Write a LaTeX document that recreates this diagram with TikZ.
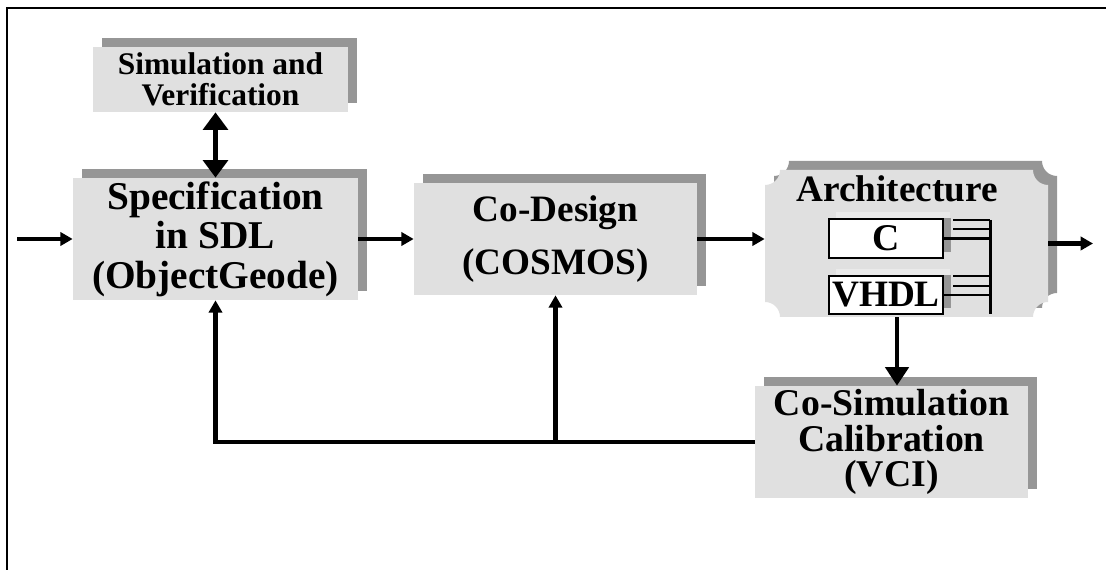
\documentclass[tikz,border=0pt]{standalone}
\usepackage{fontspec}
\setmainfont{Liberation Serif}
\usetikzlibrary{arrows.meta, shadows}
\definecolor{marble}{RGB}{224,224,224}
\definecolor{shadowgray}{RGB}{150,150,150}
\definecolor{lightshade}{RGB}{234,234,234}
\tikzset{
    block/.style={
        fill=marble, inner sep=0pt, align=center,
        drop shadow={shadow xshift=0.18cm, shadow yshift=0.18cm,
            fill=shadowgray, opacity=1}
    },
    langbox/.style={
        draw, fill=white, line width=1.2pt, inner sep=0pt,
        minimum width=2.28cm,
        drop shadow={shadow xshift=0.14cm, shadow yshift=0.14cm,
            fill=lightshade, opacity=1}
    },
    flow/.style={line width=2.3pt, -{Triangle[length=7pt, width=7.5pt]}},
    bigflow/.style={line width=2.8pt, -{Triangle[length=10.5pt, width=13pt]}},
    bus/.style={line width=1.7pt}
}
% plaque aux coins rentrants
\def\notched#1#2#3#4{(#1+15,#2) -- (#3-15,#2)
    arc[start angle=180, end angle=90, radius=15] -- (#3,#4-15)
    arc[start angle=270, end angle=180, radius=15] -- (#1+15,#4)
    arc[start angle=0, end angle=-90, radius=15] -- (#1,#2+15)
    arc[start angle=90, end angle=0, radius=15] -- cycle}

\begin{document}
\begin{tikzpicture}[x=0.02cm, y=-0.02cm]
    \useasboundingbox (0,0) rectangle (1106,570);

    % cadre
    \draw[line width=1.2pt] (7,570) -- (7,8) -- (1106,8);

    % blocs
    \node[block, minimum width=5.10cm, minimum height=1.30cm,
        font=\bfseries\fontsize{17.9}{18}\selectfont]
        (sim) at (220.5,79.5) {Simulation and\\Verification};

    \node[block, minimum width=5.70cm, minimum height=2.44cm,
        font=\bfseries\fontsize{22.4}{22.4}\selectfont]
        (spec) at (215.5,239) {Specification\\in SDL\\(ObjectGeode)};

    \node[block, minimum width=5.66cm, minimum height=2.24cm,
        font=\bfseries\fontsize{21.2}{30}\selectfont]
        (codesign) at (555.5,239) {Co-Design\\(COSMOS)};

    \node[block, minimum width=5.46cm, minimum height=2.24cm,
        font=\bfseries\fontsize{21.5}{20.4}\selectfont]
        (cosim) at (891.5,442) {Co-Simulation\\Calibration\\(VCI)};

    % Architecture
    \fill[shadowgray] \notched{774}{161}{1057}{308};
    \fill[marble] \notched{765}{170}{1048}{317};
    \node[minimum width=5.66cm, minimum height=2.94cm, inner sep=0pt]
        (arch) at (906.5,243.5) {};
    \node[anchor=base, font=\bfseries\fontsize{21.2}{22}\selectfont]
        (archtitle) at (897,202) {Architecture};

    \node[langbox, minimum height=0.78cm,
        font=\bfseries\fontsize{21.5}{22}\selectfont] (c) at (886,238.5) {C};
    \node[langbox, minimum height=0.76cm,
        font=\bfseries\fontsize{21.2}{22}\selectfont] (vhdl) at (886,295) {VHDL};
    \fill[shadowgray] (c.north east) rectangle ([xshift=0.14cm, yshift=0.14cm]c.south east);
    \fill[shadowgray] (vhdl.north east) rectangle ([xshift=0.14cm, yshift=0.14cm]vhdl.south east);

    % bus
    \coordinate (bustop) at (990,220);
    \coordinate (busbot) at (990,314);
    \draw[bus] (bustop) -- (busbot);
    \foreach \y in {220,229,276,286}
        \draw[bus] (953,\y) -- (990,\y);
    \draw[bus] (c.east) -- (c.east -| bustop);
    \draw[bus] (vhdl.east) -- (vhdl.east -| bustop);

    % liaisons
    \coordinate (in) at (17,239);
    \coordinate (out) at (1093,243.5);
    \draw[flow] (in) -- (spec.west);
    \draw[flow] (spec.east) -- (codesign.west);
    \draw[flow] (codesign.east) -- (codesign.east -| arch.west);
    \draw[flow] (arch.east) -- (out);
    \draw[bigflow, {Triangle[length=10pt, width=14pt]}-{Triangle[length=10pt, width=14pt]}]
        (spec.north) -- (spec.north |- sim.south);
    \draw[bigflow] ([xshift=0.11cm]cosim.north |- arch.south) -- ([xshift=0.11cm]cosim.north);
    \draw[flow] (cosim.west) -| (spec.south);
    \draw[flow] (cosim.west -| codesign.south) -- (codesign.south);

\end{tikzpicture}
\end{document}
